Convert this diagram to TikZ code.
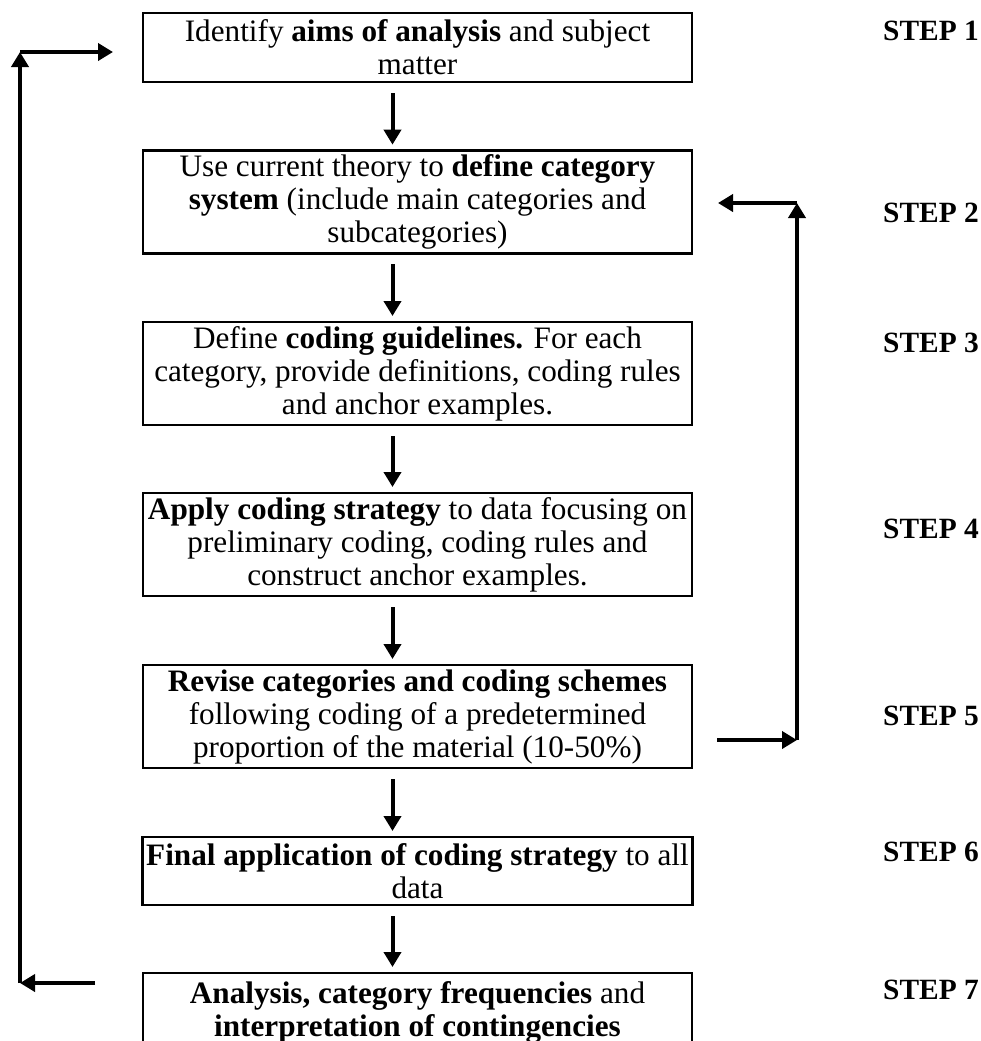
\documentclass[tikz,border=0pt]{standalone}
\usepackage{fontspec}
\setmainfont{Liberation Serif}
\usetikzlibrary{arrows.meta}
\tikzset{
    stepbox/.style={draw, line width=1.4pt, minimum width=274.5pt,
    align=center, inner sep=2pt, outer sep=0pt,
    font=\fontsize{15.6}{16.5}\selectfont},
    steplabel/.style={font=\fontsize{14.7}{16.5}\selectfont\bfseries, inner sep=0pt},
    downarrow/.style={line width=2pt, -{Triangle[length=7.5pt,width=8.5pt]}},
    looparrow/.style={line width=2.4pt, -{Triangle[length=7.5pt,width=8.5pt]}}
}

\begin{document}
\begin{tikzpicture}[x=0.5pt,y=-0.5pt]
    \useasboundingbox (0,0) rectangle (981,1041);

    \node[stepbox, minimum height=34.5pt] (b1) at (417.5,47.5)
        {Identify \textbf{aims of analysis} and subject\\matter};
    \node[stepbox, minimum height=51pt] (b2) at (417.5,202)
        {Use current theory to \textbf{define category}\\\textbf{system} (include main categories and\\subcategories)};
    \node[stepbox, minimum height=51.5pt] (b3) at (417.5,373.5)
        {Define \textbf{coding guidelines.} For each\\category, provide definitions, coding rules\\and anchor examples.};
    \node[stepbox, minimum height=51.5pt] (b4) at (417.5,544.5)
        {\textbf{Apply coding strategy} to data focusing on\\preliminary coding, coding rules and\\construct anchor examples.};
    \node[stepbox, minimum height=51.5pt] (b5) at (417.5,716.5)
        {\textbf{Revise categories and coding schemes}\\following coding of a predetermined\\proportion of the material (10-50\%)};
    \node[stepbox, minimum height=34pt] (b6) at (417.5,871)
        {\textbf{Final application of coding strategy} to all\\data};
    \node[stepbox, minimum height=39pt] (b7) at (417.5,1012)
        {\textbf{Analysis, category frequencies} and\\\textbf{interpretation of contingencies}};

    \foreach \n/\y in {1/31,2/213,3/343,4/529,5/716,6/852,7/990}{
        \node[steplabel] (s\n) at (931,\y) {STEP \n};
    }

    \foreach \a/\b in {b1/b2,b2/b3,b3/b4,b4/b5,b5/b6,b6/b7}{
        \draw[downarrow] ([xshift=-12.5pt,yshift=-5.5pt]\a.south)
        -- ([xshift=-12.5pt,yshift=3pt]\b.north);
    }

    % loop back to step 1
    \coordinate (lb) at (20,983);
    \coordinate (lt) at (20,52);
    \draw[looparrow] ([xshift=-24pt,yshift=-5pt]b7.north west) -- (lb);
    \draw[looparrow] (lb) -- (lt);
    \draw[looparrow] (lt) -- ([xshift=-15pt,yshift=-2.25pt]b1.west);

    % loop back to step 2
    \coordinate (rb) at (797,740);
    \coordinate (rt) at (797,203);
    \draw[looparrow] ([xshift=12.5pt,yshift=-11.75pt]b5.east) -- (rb);
    \draw[looparrow] (rb) -- (rt);
    \draw[looparrow] (rt) -- ([xshift=13pt,yshift=-0.5pt]b2.east);
\end{tikzpicture}
\end{document}
